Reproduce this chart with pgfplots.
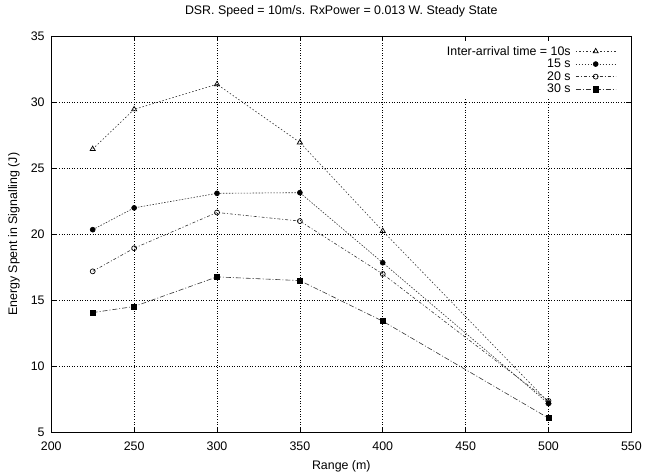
\documentclass[border=0pt]{standalone}
\usepackage{fontspec}
\setmainfont{Liberation Sans}
\usepackage{pgfplots}
\pgfplotsset{compat=1.18}
\begin{document}
\begin{tikzpicture}[font=\fontsize{12.5}{13}\selectfont]
\begin{axis}[
  scale only axis, width=585pt, height=400pt,
  xmin=200, xmax=550, ymin=5, ymax=35,
  xtick={200,250,...,550}, ytick={5,10,...,35},
  /pgf/number format/assume math mode=true,
  tick align=inside, major tick length=5pt,
  tick style={black, line width=0.6pt},
  axis line style={black, line width=0.9pt},
  grid=major,
  major grid style={black, line width=0.5pt, dash pattern=on 0.8pt off 1.8pt},
  xticklabel style={yshift=-5.5pt},
  yticklabel style={xshift=-3.2pt},
  title={DSR. Speed = 10m/s. RxPower = 0.013 W. Steady State},
  title style={at={(rel axis cs:0.5,1)}, anchor=center, yshift=19pt},
  xlabel={Range (m)},
  xlabel style={at={(rel axis cs:0.5,0)}, anchor=center, yshift=-34pt},
  ylabel={Energy Spent in Signalling (J)},
  ylabel style={at={(rel axis cs:0,0.5)}, anchor=center, yshift=37.7pt},
  legend plot pos=right,
  legend cell align=right,
  legend style={at={(rel axis cs:0.977,0.985)}, anchor=north east, draw=none, fill=white,
    font=\fontsize{12.5}{12.5}\selectfont, row sep=-1.5pt, column sep=3pt, inner sep=2pt},
  legend image code/.code={\draw[mark repeat=2,mark phase=2,#1] plot coordinates {(0pt,0pt) (20pt,0pt) (40pt,0pt)};},
]
\coordinate (O) at (rel axis cs:0,0);
\addplot[black!80, line width=0.6pt, dash pattern=on 1.5pt off 2pt,
  mark=triangle, mark size=3pt, mark options={solid, black, line width=0.7pt}]
  coordinates {(225,26.45) (250,29.45) (300,31.35) (350,26.95) (400,20.25) (500,7.3)};
\addlegendentry{Inter-arrival time = 10s}
\addplot[black!80, line width=0.6pt, dash pattern=on 1.5pt off 1.5pt,
  mark=*, mark size=2.5pt, mark options={solid, black}]
  coordinates {(225,20.35) (250,22.0) (300,23.1) (350,23.15) (400,17.85) (500,7.2)};
\addlegendentry{15 s}
\addplot[black!80, line width=0.6pt, dash pattern=on 3pt off 2pt on 1pt off 2pt,
  mark=o, mark size=2.5pt, mark options={solid, black, line width=0.7pt}]
  coordinates {(225,17.2) (250,18.95) (300,21.65) (350,21.0) (400,17.0) (500,7.4)};
\addlegendentry{20 s}
\addplot[black!80, line width=0.6pt, dash pattern=on 5pt off 2pt on 1pt off 2pt,
  mark=square*, mark size=2.6pt, mark options={solid, black}]
  coordinates {(225,14.08) (250,14.54) (300,16.78) (350,16.5) (400,13.43) (500,6.1)};
\addlegendentry{30 s}
\end{axis}
\path (O) ++(-51.7pt,-39.7pt) rectangle ++(645pt,476pt);
\end{tikzpicture}
\end{document}
